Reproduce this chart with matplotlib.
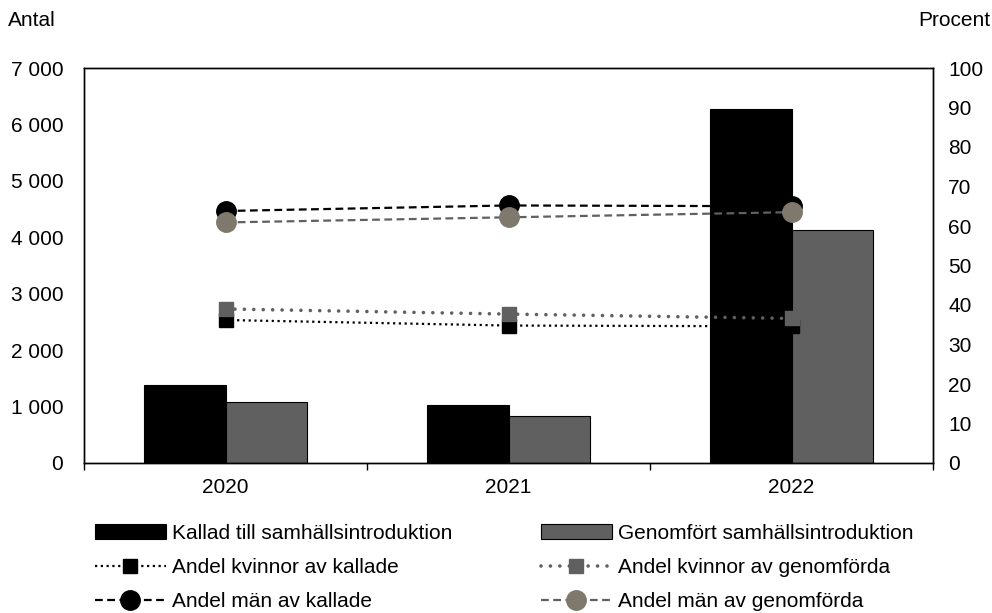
import matplotlib
matplotlib.use("Agg")
import matplotlib.pyplot as plt
import numpy as np

plt.rcParams["font.family"] = ["Liberation Sans", "DejaVu Sans"]
plt.rcParams["font.size"] = 15

# data
years = ["2020", "2021", "2022"]
kallad = [1380, 1030, 6270]
genomfort = [1080, 830, 4130]
kvinnor_kallade = [36.2, 34.8, 34.6]
kvinnor_genomforda = [39.0, 37.7, 36.6]
man_kallade = [63.8, 65.2, 65.0]
man_genomforda = [60.9, 62.2, 63.5]

grey_bar = "#606060"
grey_dot = "#7f786c"

fig = plt.figure(figsize=(9.92, 6.13), dpi=100)
ax = fig.add_axes([84 / 992, 1 - 463 / 613, (933 - 84) / 992, (463 - 68) / 613])
ax2 = ax.twinx()

x = np.arange(len(years))
w = 0.288
b1 = ax.bar(x - w / 2, kallad, w, color="black", edgecolor="black", linewidth=0.8,
            label="Kallad till samhällsintroduktion")
b2 = ax.bar(x + w / 2, genomfort, w, color=grey_bar, edgecolor="black", linewidth=0.8,
            label="Genomfört samhällsintroduktion")

l1, = ax2.plot(x, kvinnor_kallade, color="black", linestyle=(0, (1, 1.6)), linewidth=1.6,
               marker="s", markersize=10, label="Andel kvinnor av kallade")
l2, = ax2.plot(x, kvinnor_genomforda, color=grey_bar, linestyle=(0, (0.01, 2.6)), linewidth=2.6,
               dash_capstyle="round", marker="s", markersize=10,
               label="Andel kvinnor av genomförda")
l3, = ax2.plot(x, man_kallade, color="black", linestyle=(0, (3.5, 2)), linewidth=1.6,
               marker="o", markersize=14, label="Andel män av kallade")
l4, = ax2.plot(x, man_genomforda, color=grey_bar, linestyle=(0, (3.5, 2)), linewidth=1.6,
               marker="o", markersize=14, markerfacecolor=grey_dot, markeredgecolor=grey_dot,
               label="Andel män av genomförda")

ax.set_xlim(-0.5, 2.5)
ax.set_ylim(0, 7000)
ax2.set_ylim(0, 100)
ax.set_yticks(np.arange(0, 7001, 1000))
ax.set_yticklabels([f"{v:,}".replace(",", " ") for v in range(0, 7001, 1000)])
ax2.set_yticks(np.arange(0, 101, 10))
ax.tick_params(axis="y", length=0, pad=15)
ax2.tick_params(axis="y", length=0, pad=11)

ax.set_xticks(x)
ax.set_xticklabels(years)
ax.set_xticks([-0.5, 0.5, 1.5, 2.5], minor=True)
ax.tick_params(axis="x", which="major", length=0, pad=11)
ax.tick_params(axis="x", which="minor", length=5, width=1)

for a in (ax, ax2):
    for s in a.spines.values():
        s.set_linewidth(1)

fig.text(8 / 992, 1 - 20 / 613, "Antal", ha="left", va="center")
fig.text(990 / 992, 1 - 20 / 613, "Procent", ha="right", va="center")

handles = [b1, l1, l3, b2, l2, l4]
fig.legend(handles, [h.get_label() for h in handles], ncol=2, loc="upper left",
           bbox_to_anchor=(95 / 992, 1 - 524 / 613), frameon=False,
           handlelength=3.4, handletextpad=0.3, columnspacing=4.25,
           labelspacing=0.72, borderaxespad=0, borderpad=0)

fig.savefig("out.png", dpi=100)
